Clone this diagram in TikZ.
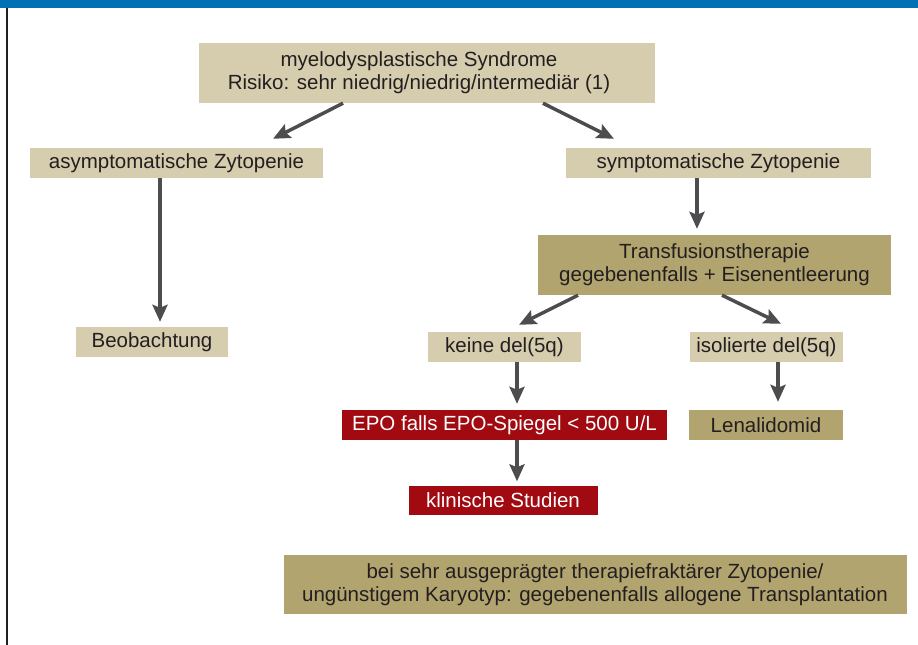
\documentclass[tikz,border=0pt]{standalone}
\usepackage{fontspec}
\setmainfont{Liberation Sans}
\usetikzlibrary{arrows.meta}
\definecolor{lighttan}{HTML}{D6CDAE}
\definecolor{darktan}{HTML}{B1A46F}
\definecolor{darkred}{HTML}{A10A11}
\definecolor{topblue}{HTML}{0071B3}
\definecolor{txt}{HTML}{231F20}
\definecolor{arr}{HTML}{4D4D4F}
\tikzset{
  boxbase/.style={inner sep=0pt, align=center, font=\fontsize{20.5}{23}\selectfont},
  lt/.style={boxbase, fill=lighttan, text=txt},
  dt/.style={boxbase, fill=darktan, text=txt},
  rd/.style={boxbase, fill=darkred, text=white},
  conn/.style={draw=arr, line width=3.5pt, -{Stealth[length=17pt,width=15pt,inset=3pt]}}
}
\begin{document}
\begin{tikzpicture}[x=1pt,y=-1pt]
\useasboundingbox (0,0) rectangle (918,645);
\fill[topblue] (0,0) rectangle (918,8);
\draw[txt, line width=2pt] (7,8) -- (7,645);

\node[lt, minimum width=456pt, minimum height=60pt] (top) at (427,73)
  {myelodysplastische Syndrome\hspace*{16pt}\\Risiko: sehr niedrig/niedrig/intermediär (1)\hspace*{16pt}};
\node[lt, minimum width=293pt, minimum height=30pt] (asym) at (176.5,163) {asymptomatische Zytopenie};
\node[lt, minimum width=305pt, minimum height=30pt] (sym) at (718.5,163) {symptomatische Zytopenie};
\node[dt, minimum width=353pt, minimum height=60pt] (trans) at (714.5,265)
  {Transfusionstherapie\\gegebenenfalls + Eisenentleerung};
\node[lt, minimum width=152pt, minimum height=30pt] (beob) at (152,342) {Beobachtung};
\node[lt, minimum width=153pt, minimum height=30pt] (keine) at (504.5,347) {keine del(5q)};
\node[lt, minimum width=153pt, minimum height=30pt] (isol) at (766.5,347) {isolierte del(5q)};
\node[rd, minimum width=325pt, minimum height=30pt] (epo) at (504.5,425) {EPO falls EPO-Spiegel < 500 U/L};
\node[dt, minimum width=154pt, minimum height=30pt] (lena) at (766,425) {Lenalidomid};
\node[rd, minimum width=189pt, minimum height=29pt] (klin) at (503,500) {klinische Studien};
\node[dt, minimum width=623pt, minimum height=59pt] (bottom) at (595,584.5)
  {bei sehr ausgeprägter therapiefraktärer Zytopenie/\\ungünstigem Karyotyp: gegebenenfalls allogene Transplantation};

\draw[conn] ([xshift=-84pt]top.south) -- ([xshift=96.5pt,yshift=9pt]asym.north);
\draw[conn] ([xshift=116pt]top.south) -- ([xshift=-104.5pt,yshift=9pt]sym.north);
\draw[conn] ([xshift=-16.5pt]asym.south) -- ([xshift=8pt,yshift=5pt]beob.north);
\draw[conn] ([xshift=-21.5pt]sym.south) -- ([xshift=-17.5pt,yshift=6pt]trans.north);
\draw[conn] ([xshift=-136.5pt]trans.south) -- ([xshift=14.5pt,yshift=7pt]keine.north);
\draw[conn] ([xshift=7.5pt]trans.south) -- ([xshift=14.5pt,yshift=8pt]isol.north);
\draw[conn] ([xshift=12.5pt]keine.south) -- ([xshift=12.5pt,yshift=6pt]epo.north);
\draw[conn] ([xshift=11.5pt]isol.south) -- ([xshift=12pt,yshift=8pt]lena.north);
\draw[conn] ([xshift=12.5pt]epo.south) -- ([xshift=14pt,yshift=4pt]klin.north);
\end{tikzpicture}
\end{document}
